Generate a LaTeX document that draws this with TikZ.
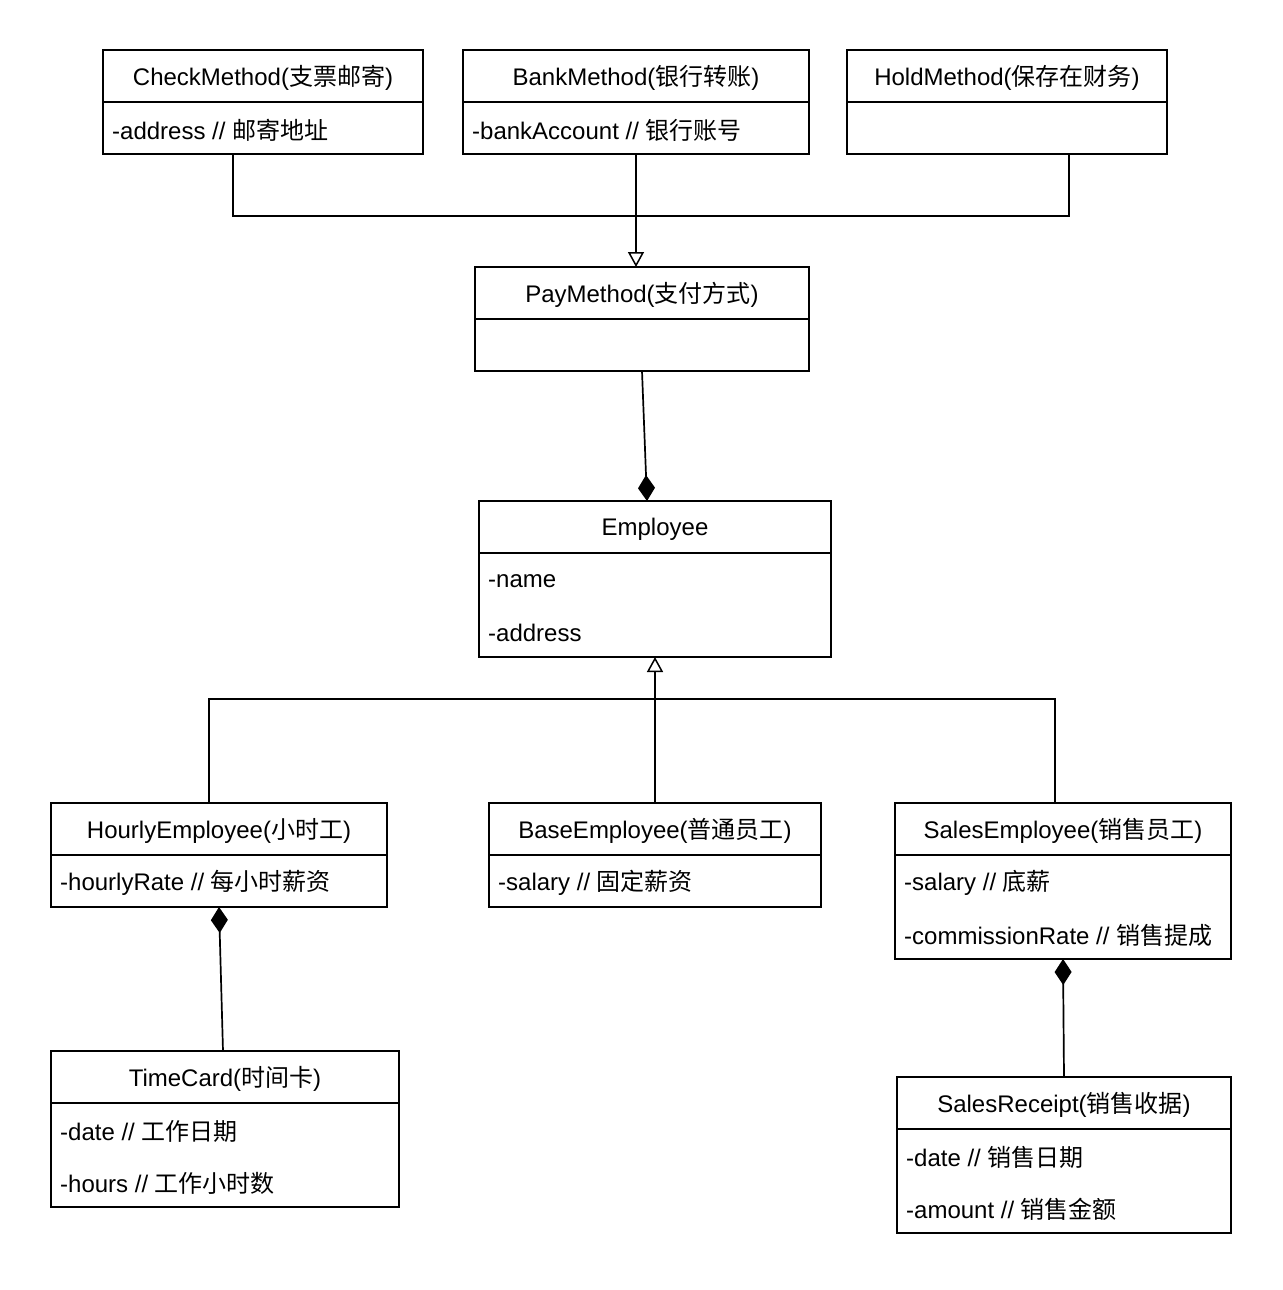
\documentclass[tikz,border=0pt]{standalone}
\usepackage{fontspec}
\setmainfont{Liberation Sans}
\newfontfamily\cjkfont{Noto Sans CJK SC}
\newcommand\zh[1]{{\cjkfont #1}}
\usetikzlibrary{arrows.meta,calc}
\tikzset{
  classbox/.style={draw, line width=2pt, rectangle, inner sep=0pt, outer sep=0pt, anchor=north west, fill=white},
  divider/.style={line width=2pt},
  hdr/.style={inner sep=0pt, anchor=center, font=\fontsize{24pt}{28pt}\selectfont},
  attr/.style={inner sep=0pt, inner xsep=9pt, anchor=west, font=\fontsize{24pt}{28pt}\selectfont},
  conn/.style={line width=1.7pt},
  inh/.style={conn, -{Triangle[open, length=15pt, width=16pt, line width=1.5pt]}},
  comp/.style={conn, -{Diamond[length=26pt, width=17pt]}},
  compstart/.style={conn, {Diamond[length=26pt, width=17pt]}-},
}
\newcommand\umlclass[6]{% name, x, y, width, rows, header
  \node[classbox, minimum width=#4pt, minimum height={52pt*(#5+1)}] (#1) at (#2,#3) {};
  \node[hdr] (#1-h) at ($(#1.north)+(0,28)$) {#6};
  \draw[divider] ($(#1.north west)+(0,52)$) -- ($(#1.north east)+(0,52)$);
}
\begin{document}
\begin{tikzpicture}[x=1pt,y=-1pt]
\useasboundingbox (0,0) rectangle (1282,1290);

% top row
\umlclass{check}{103}{50}{320}{1}{CheckMethod(\zh{支票邮寄})}
\node[attr] (check-a1) at ($(check.north west)+(0,80)$) {-address // \zh{邮寄地址}};
\umlclass{bank}{463}{50}{346}{1}{BankMethod(\zh{银行转账})}
\node[attr] (bank-a1) at ($(bank.north west)+(0,80)$) {-bankAccount // \zh{银行账号}};
\umlclass{hold}{847}{50}{320}{1}{HoldMethod(\zh{保存在财务})}

% pay method
\umlclass{pay}{475}{267}{334}{1}{PayMethod(\zh{支付方式})}

% employee
\umlclass{emp}{479}{501}{352}{2}{Employee}
\node[attr] (emp-a1) at ($(emp.north west)+(0,80)$) {-name};
\node[attr] (emp-a2) at ($(emp.north west)+(0,132)$) {-address};

% subclasses
\umlclass{hourly}{51}{803}{336}{1}{HourlyEmployee(\zh{小时工})}
\node[attr] (hourly-a1) at ($(hourly.north west)+(0,80)$) {-hourlyRate // \zh{每小时薪资}};
\umlclass{base}{489}{803}{332}{1}{BaseEmployee(\zh{普通员工})}
\node[attr] (base-a1) at ($(base.north west)+(0,80)$) {-salary // \zh{固定薪资}};
\umlclass{sales}{895}{803}{336}{2}{SalesEmployee(\zh{销售员工})}
\node[attr] (sales-a1) at ($(sales.north west)+(0,80)$) {-salary // \zh{底薪}};
\node[attr] (sales-a2) at ($(sales.north west)+(0,132)$) {-commissionRate // \zh{销售提成}};

% parts
\umlclass{card}{51}{1051}{348}{2}{TimeCard(\zh{时间卡})}
\node[attr] (card-a1) at ($(card.north west)+(0,80)$) {-date // \zh{工作日期}};
\node[attr] (card-a2) at ($(card.north west)+(0,132)$) {-hours // \zh{工作小时数}};
\umlclass{receipt}{897}{1077}{334}{2}{SalesReceipt(\zh{销售收据})}
\node[attr] (receipt-a1) at ($(receipt.north west)+(0,80)$) {-date // \zh{销售日期}};
\node[attr] (receipt-a2) at ($(receipt.north west)+(0,132)$) {-amount // \zh{销售金额}};

% connectors: pay method generalization
\coordinate (j1) at ($(bank.south)+(0,62)$);
\draw[inh] (bank.south) -- ($(pay.north)+(-6,0)$);
\draw[conn] ($(check.south)+(-30,0)$) |- (j1);
\draw[conn] ($(hold.south)+(62,0)$) |- (j1);

% composition pay -> employee
\draw[comp] (pay.south) -- ($(emp.north)+(-8,0)$);

% employee generalization
\coordinate (j2) at ($(emp.south)+(0,42)$);
\draw[inh] (base.north) -- (emp.south);
\draw[conn] ($(hourly.north)+(-10,0)$) |- (j2) -| ($(sales.north)+(-8,0)$);

% compositions
\draw[compstart] (hourly.south) -- ($(card.north)+(-2,0)$);
\draw[compstart] (sales.south) -- (receipt.north);
\end{tikzpicture}
\end{document}
